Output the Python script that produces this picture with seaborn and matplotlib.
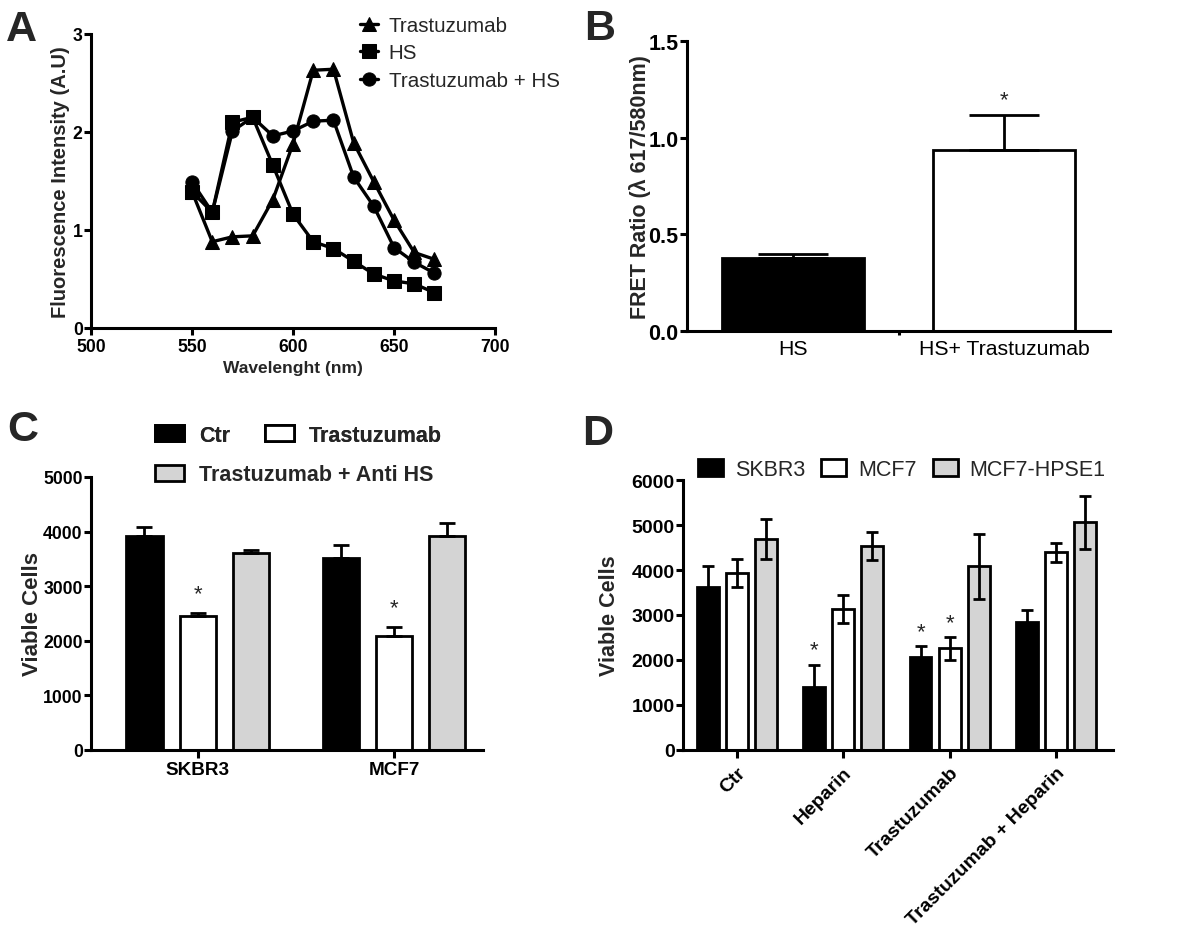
import numpy as np
import pandas as pd
import matplotlib
matplotlib.use("Agg")
import matplotlib.pyplot as plt
import seaborn as sns
from matplotlib.patches import Patch

# ---- data -------------------------------------------------------------
# A: emission spectra
wavelength = [550, 560, 570, 580, 590, 600, 610, 620, 630, 640, 650, 660, 670]
trastuzumab = [1.39, 0.88, 0.93, 0.94, 1.31, 1.88, 2.63, 2.64, 1.89, 1.49, 1.10, 0.77, 0.70]
hs = [1.39, 1.18, 2.10, 2.15, 1.66, 1.16, 0.88, 0.81, 0.68, 0.55, 0.48, 0.45, 0.36]
trast_hs = [1.49, 1.18, 2.01, 2.15, 1.96, 2.01, 2.11, 2.12, 1.54, 1.24, 0.82, 0.67, 0.56]

# B: FRET ratio
fret_groups = ["HS", "HS+ Trastuzumab"]
fret_ratio = [0.38, 0.935]
fret_err = [0.02, 0.18]

# C: viable cells, anti HS
c_cells = ["SKBR3", "MCF7"]
c_treat = ["Ctr", "Trastuzumab", "Trastuzumab + Anti HS"]
c_ctr = [3910, 3525]
c_trast = [2445, 2090]
c_antihs = [3600, 3910]
c_ctr_err = [176, 232]
c_trast_err = [61, 165]
c_antihs_err = [67, 256]

# D: viable cells, heparin
d_treat = ["Ctr", "Heparin", "Trastuzumab", "Trastuzumab + Heparin"]
d_lines = ["SKBR3", "MCF7", "MCF7-HPSE1"]
d_skbr3 = [3615, 1410, 2075, 2850]
d_mcf7 = [3935, 3135, 2260, 4395]
d_hpse1 = [4690, 4535, 4080, 5060]
d_skbr3_err = [466, 480, 230, 260]
d_mcf7_err = [305, 315, 250, 215]
d_hpse1_err = [445, 315, 715, 590]

# ---- style ------------------------------------------------------------
sns.set_style("ticks")
plt.rcParams["font.family"] = ["Liberation Sans", "DejaVu Sans"]
plt.rcParams["axes.linewidth"] = 2.2
plt.rcParams["xtick.major.width"] = 2.2
plt.rcParams["ytick.major.width"] = 2.2
plt.rcParams["xtick.color"] = "black"
plt.rcParams["ytick.color"] = "black"
plt.rcParams["axes.edgecolor"] = "black"

fig = plt.figure(figsize=(11.81, 9.45), dpi=100)
gray = "#d4d4d4"


def clean(ax):
    sns.despine(ax=ax)
    ax.tick_params(direction="out", length=5, pad=2)


def add_errs(ax, errs, both=False, capsize=5):
    for cont, err in zip(ax.containers, errs):
        for bar, e in zip(cont, err):
            x = bar.get_x() + bar.get_width() / 2
            y = bar.get_height()
            yerr = e if both else [[0], [e]]
            ax.errorbar(x, y, yerr=yerr, fmt="none", ecolor="black",
                        elinewidth=2, capsize=capsize, capthick=2, zorder=5)


# ---- A ----------------------------------------------------------------
axA = fig.add_axes([0.0771, 0.6519, 0.3421, 0.3111])
for vals, mk, name in [(trastuzumab, "^", "Trastuzumab"),
                       (hs, "s", "HS"),
                       (trast_hs, "o", "Trastuzumab + HS")]:
    sns.lineplot(x=wavelength, y=vals, marker=mk, markersize=9.5, color="black",
                 linewidth=2.4, markeredgecolor="black", label=name, ax=axA)
axA.set_xlim(500, 700)
axA.set_ylim(0, 3)
axA.set_xticks([500, 550, 600, 650, 700], ["500", "550", "600", "650", "700"],
               fontsize=12.7, fontweight="bold")
axA.set_yticks([0, 1, 2, 3], ["0", "1", "2", "3"], fontsize=12.7, fontweight="bold")
axA.set_xlabel("Wavelenght (nm)", fontsize=12.5, fontweight="bold", labelpad=4)
axA.set_ylabel("Fluorescence Intensity (A.U)", fontsize=14.5, fontweight="bold", labelpad=2)
clean(axA)
axA.tick_params(axis="y", pad=1)
axA.legend(loc="upper left", bbox_to_anchor=(0.665, 1.062), frameon=False,
           fontsize=14.8, handlelength=0.9, handletextpad=0.5, labelspacing=0.42,
           borderpad=0, borderaxespad=0)

# ---- B ----------------------------------------------------------------
axB = fig.add_axes([0.5817, 0.6487, 0.3582, 0.3069])
sns.barplot(x=fret_groups, y=fret_ratio, hue=fret_groups, palette=["black", "white"],
            legend=False, width=0.67, edgecolor="black", linewidth=2, ax=axB)
add_errs(axB, [[fret_err[0]], [fret_err[1]]], capsize=25.5)
axB.set_xlim(-0.5, 1.5)
axB.set_ylim(0, 1.5)
axB.set_yticks([0, 0.5, 1.0, 1.5], ["0.0", "0.5", "1.0", "1.5"], fontsize=15.5,
               fontweight="bold")
axB.set_xticks([0, 1], fret_groups, fontsize=15.3)
axB.set_xticks([0.5], minor=True)
axB.set_ylabel("FRET Ratio (\u03bb 617/580nm)", fontsize=15.5, fontweight="bold", labelpad=-2)
axB.set_xlabel("")
clean(axB)
axB.tick_params(axis="x", length=0, pad=6)
axB.tick_params(axis="x", which="minor", length=3, width=2.2)
axB.tick_params(axis="y", pad=1)
axB.text(1, fret_ratio[1] + fret_err[1] + 0.08, "*", ha="center", va="center", fontsize=16)

# ---- C ----------------------------------------------------------------
axC = fig.add_axes([0.0771, 0.2053, 0.3319, 0.2889])
c_df = pd.DataFrame({
    "cell": c_cells * 3,
    "treatment": [t for t in c_treat for _ in c_cells],
    "value": c_ctr + c_trast + c_antihs,
})
sns.barplot(data=c_df, x="cell", y="value", hue="treatment", hue_order=c_treat,
            palette=["black", "white", gray], width=0.81, gap=0.32, edgecolor="black",
            linewidth=2, legend=False, errorbar=None, ax=axC)
add_errs(axC, [c_ctr_err, c_trast_err, c_antihs_err], capsize=6)
axC.set_xlim(-0.542, 1.453)
axC.set_ylim(0, 5000)
axC.set_yticks(range(0, 5001, 1000), [str(v) for v in range(0, 5001, 1000)],
               fontsize=12.7, fontweight="bold")
axC.set_xticks([0, 1], c_cells, fontsize=13.6, fontweight="bold")
axC.set_xlabel("")
axC.set_ylabel("Viable Cells", fontsize=16, fontweight="bold", labelpad=0)
clean(axC)
axC.tick_params(axis="y", pad=1)
axC.tick_params(axis="x", length=6, pad=2)
for bar, e in zip(axC.containers[1], c_trast_err):
    axC.text(bar.get_x() + bar.get_width() / 2, bar.get_height() + e + 360, "*",
             ha="center", va="center", fontsize=16)

c_handles = [Patch(facecolor=c, edgecolor="black", linewidth=2, label=t)
             for c, t in zip(["black", "white", gray], c_treat)]
leg_kw = dict(frameon=False, prop={"size": 15.5, "weight": "bold"}, handlelength=1.35,
              handleheight=0.75, handletextpad=0.7, borderpad=0, borderaxespad=0,
              loc="center left")
legC1 = fig.legend(handles=c_handles[:2], ncol=2, columnspacing=1.6,
                   bbox_to_anchor=(0.1312, 0.5386), **leg_kw)
fig.legend(handles=c_handles[2:], bbox_to_anchor=(0.1312, 0.4963), **leg_kw)
fig.add_artist(legC1)

# ---- D ----------------------------------------------------------------
axD = fig.add_axes([0.5783, 0.2053, 0.3641, 0.2857])
d_df = pd.DataFrame({
    "treatment": d_treat * 3,
    "line": [l for l in d_lines for _ in d_treat],
    "value": d_skbr3 + d_mcf7 + d_hpse1,
})
sns.barplot(data=d_df, x="treatment", y="value", hue="line", hue_order=d_lines,
            palette=["black", "white", gray], width=0.82, gap=0.25, edgecolor="black",
            linewidth=2, legend=False, errorbar=None, ax=axD)
add_errs(axD, [d_skbr3_err, d_mcf7_err, d_hpse1_err], both=True, capsize=4)
axD.set_xlim(-0.508, 3.536)
axD.set_ylim(0, 6000)
axD.set_yticks(range(0, 6001, 1000), [str(v) for v in range(0, 6001, 1000)],
               fontsize=14, fontweight="bold")
axD.set_xticks(range(4), d_treat, fontsize=14, fontweight="bold", rotation=45,
               ha="right", rotation_mode="anchor")
axD.set_xlabel("")
axD.set_ylabel("Viable Cells", fontsize=15.5, fontweight="bold", labelpad=8)
clean(axD)
axD.tick_params(axis="y", pad=1)
axD.tick_params(axis="x", length=6, pad=4)
# significance marks: SKBR3 heparin, SKBR3 trastuzumab, MCF7 trastuzumab
for cont_idx, cat_idx, errs in [(0, 1, d_skbr3_err), (0, 2, d_skbr3_err), (1, 2, d_mcf7_err)]:
    bar = axD.containers[cont_idx][cat_idx]
    axD.text(bar.get_x() + bar.get_width() / 2, bar.get_height() + errs[cat_idx] + 330,
             "*", ha="center", va="center", fontsize=16)

d_handles = [Patch(facecolor=c, edgecolor="black", linewidth=2, label=t)
             for c, t in zip(["black", "white", gray], d_lines)]
fig.legend(handles=d_handles, ncol=3, frameon=False, fontsize=15.5, handlelength=1.16,
           handleheight=0.84, handletextpad=0.56, columnspacing=0.74, borderpad=0,
           borderaxespad=0, loc="center left", bbox_to_anchor=(0.591, 0.5026))

# ---- panel letters ----------------------------------------------------
for x, y, s in [(0.005, 0.968, "A"), (0.495, 0.969, "B"),
                (0.006, 0.545, "C"), (0.493, 0.541, "D")]:
    fig.text(x, y, s, fontsize=31, fontweight="bold", ha="left", va="center")

fig.savefig("out.png", dpi=100, facecolor="white")
